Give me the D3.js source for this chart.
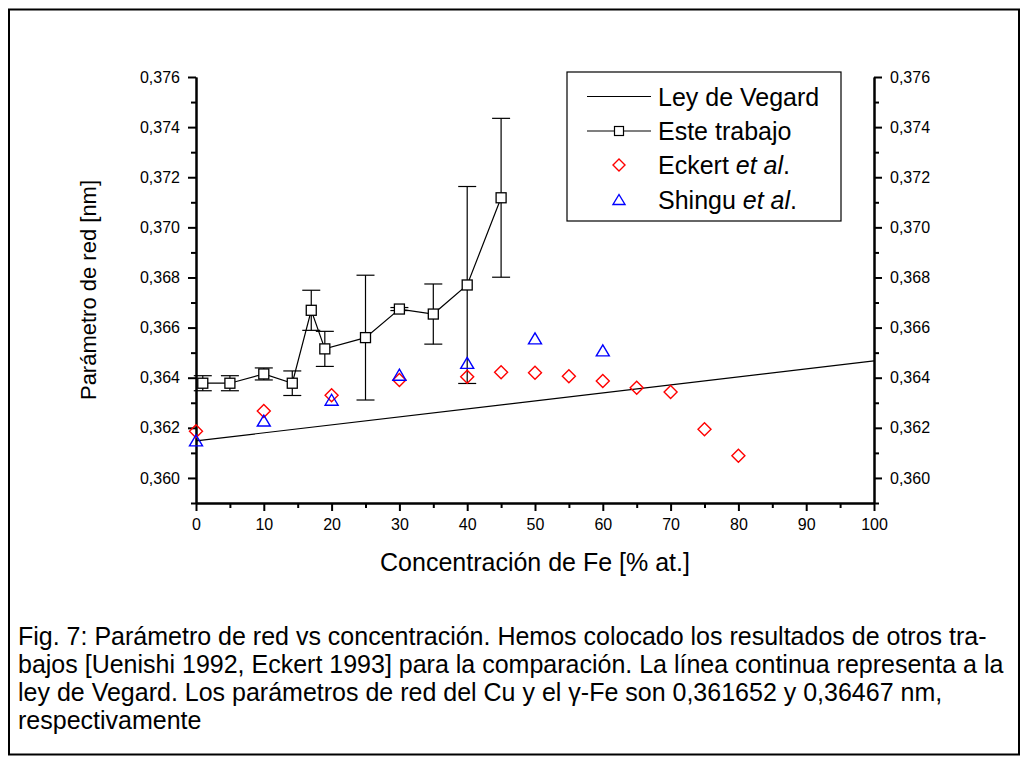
<!DOCTYPE html>
<html><head><meta charset="utf-8">
<script src="https://cdn.jsdelivr.net/npm/d3@7"></script>
<style>
html,body{margin:0;padding:0;background:#fff;}
svg{display:block;font-family:"Liberation Sans",Arial,sans-serif;}
</style></head>
<body>
<svg id="chart" width="1028" height="764"></svg>
<script>
// ---- data ----
const vegardX = [0, 100];
const vegardY = [0.36148, 0.36467];

const esteX   = [1, 5, 10, 14.2, 17, 19, 25, 30, 35, 40, 45];
const esteY   = [0.36378, 0.36378, 0.36415, 0.36378, 0.36669, 0.36515, 0.36560, 0.36674, 0.36654, 0.36770, 0.37118];
const esteErr = [0.00030, 0.00030, 0.00024, 0.00049, 0.00080, 0.00070, 0.00249, 0.00006, 0.00120, 0.00393, 0.00317];

const eckertX = [0, 10, 20, 30, 40, 45, 50, 55, 60, 65, 70, 75, 80];
const eckertY = [0.36186, 0.36267, 0.36330, 0.36391, 0.36404, 0.36422, 0.36420, 0.36406, 0.36387, 0.36360, 0.36343, 0.36194, 0.36089];

const shinguX = [0, 10, 20, 30, 40, 50, 60];
const shinguY = [0.36150, 0.36229, 0.36312, 0.36412, 0.36459, 0.36557, 0.36509];

const xMajorTicks = [0, 10, 20, 30, 40, 50, 60, 70, 80, 90, 100];
const xMinorTicks = [5, 15, 25, 35, 45, 55, 65, 75, 85, 95];
const yMajorTicks = [0.360, 0.362, 0.364, 0.366, 0.368, 0.370, 0.372, 0.374, 0.376];
const yMinorTicks = [0.359, 0.361, 0.363, 0.365, 0.367, 0.369, 0.371, 0.373, 0.375];

const legendLabels = ["Ley de Vegard", "Este trabajo", "Eckert", "Shingu"];
const xTitle = "Concentración de Fe [% at.]";
const yTitle = "Parámetro de red [nm]";
const captionLines = [
  "Fig. 7: Parámetro de red vs concentración. Hemos colocado los resultados de otros tra-",
  "bajos [Uenishi 1992, Eckert 1993] para la comparación. La línea continua representa a la",
  "ley de Vegard. Los parámetros de red del Cu y el γ-Fe son 0,361652 y 0,36467 nm,",
  "respectivamente"
];

// ---- drawing ----
const svg = d3.select("#chart");
svg.append("rect").attr("x", 9).attr("y", 9.5).attr("width", 1010).attr("height", 745)
  .attr("fill", "none").attr("stroke", "#000").attr("stroke-width", 2);

const x = d3.scaleLinear().domain([0, 100]).range([196, 874]);
const y = d3.scaleLinear().domain([0.359, 0.376]).range([503, 77]);
const fmt = v => d3.format(".3f")(v).replace(".", ",");

function styleAxis(g) {
  g.selectAll("path.domain").attr("stroke", "#000").attr("stroke-width", 2);
  g.selectAll(".tick line").attr("stroke", "#000").attr("stroke-width", 2);
  g.selectAll(".tick text").attr("font-size", 16).attr("fill", "#000")
    .attr("font-family", "Liberation Sans, Arial, sans-serif");
}

// minor ticks first
svg.append("g").attr("transform", `translate(0,${y.range()[0]})`)
  .call(d3.axisBottom(x).tickValues(xMinorTicks).tickSize(5).tickSizeOuter(0).tickFormat(""))
  .call(styleAxis);
svg.append("g").attr("transform", `translate(${x.range()[0]},0)`)
  .call(d3.axisLeft(y).tickValues(yMinorTicks).tickSize(5).tickSizeOuter(0).tickFormat(""))
  .call(styleAxis);
svg.append("g").attr("transform", `translate(${x.range()[1]},0)`)
  .call(d3.axisRight(y).tickValues(yMinorTicks).tickSize(5).tickSizeOuter(0).tickFormat(""))
  .call(styleAxis);

svg.append("g").attr("transform", `translate(0,${y.range()[0]})`)
  .call(d3.axisBottom(x).tickValues(xMajorTicks).tickSize(8).tickSizeOuter(0).tickPadding(8))
  .call(styleAxis);
svg.append("g").attr("transform", `translate(${x.range()[0]},0)`)
  .call(d3.axisLeft(y).tickValues(yMajorTicks).tickSize(8).tickSizeOuter(0).tickPadding(8).tickFormat(fmt))
  .call(styleAxis);
svg.append("g").attr("transform", `translate(${x.range()[1]},0)`)
  .call(d3.axisRight(y).tickValues(yMajorTicks).tickSize(8).tickSizeOuter(0).tickPadding(8).tickFormat(fmt))
  .call(styleAxis);

// axis titles
svg.append("text").attr("x", (x.range()[0] + x.range()[1]) / 2).attr("y", 571)
  .attr("text-anchor", "middle").attr("font-size", 25).text(xTitle);
svg.append("text").attr("transform", `translate(96,${(y.range()[0] + y.range()[1]) / 2}) rotate(-90)`)
  .attr("text-anchor", "middle").attr("font-size", 22).text(yTitle);

// Vegard line
const line = d3.line().x(d => x(d[0])).y(d => y(d[1]));
svg.append("path").datum(d3.zip(vegardX, vegardY)).attr("d", line)
  .attr("fill", "none").attr("stroke", "#000").attr("stroke-width", 1.2);

// Este trabajo
const este = esteX.map((v, i) => ({x: v, y: esteY[i], e: esteErr[i]}));
svg.append("path").datum(este.map(d => [d.x, d.y])).attr("d", line)
  .attr("fill", "none").attr("stroke", "#000").attr("stroke-width", 1.2);
const eb = svg.append("g").attr("stroke", "#000").attr("stroke-width", 1.2);
este.forEach(d => {
  eb.append("line").attr("x1", x(d.x)).attr("x2", x(d.x)).attr("y1", y(d.y - d.e)).attr("y2", y(d.y + d.e));
  eb.append("line").attr("x1", x(d.x) - 9).attr("x2", x(d.x) + 9).attr("y1", y(d.y - d.e)).attr("y2", y(d.y - d.e));
  eb.append("line").attr("x1", x(d.x) - 9).attr("x2", x(d.x) + 9).attr("y1", y(d.y + d.e)).attr("y2", y(d.y + d.e));
});
svg.append("g").selectAll("rect").data(este).join("rect")
  .attr("x", d => x(d.x) - 5).attr("y", d => y(d.y) - 5).attr("width", 10).attr("height", 10)
  .attr("fill", "#fff").attr("stroke", "#000").attr("stroke-width", 1.3);

// Eckert diamonds
const diamond = (cx, cy, r) => `M${cx},${cy - r}L${cx + r},${cy}L${cx},${cy + r}L${cx - r},${cy}Z`;
svg.append("g").selectAll("path").data(d3.zip(eckertX, eckertY)).join("path")
  .attr("d", d => diamond(x(d[0]), y(d[1]), 6.5))
  .attr("fill", "none").attr("stroke", "#ff0000").attr("stroke-width", 1.4);

// Shingu triangles
const tri = (cx, cy, w, h) => `M${cx},${cy - h / 2}L${cx + w / 2},${cy + h / 2}L${cx - w / 2},${cy + h / 2}Z`;
svg.append("g").selectAll("path").data(d3.zip(shinguX, shinguY)).join("path")
  .attr("d", d => tri(x(d[0]), y(d[1]), 13, 11))
  .attr("fill", "none").attr("stroke", "#0000ff").attr("stroke-width", 1.4);

// legend
const lg = svg.append("g");
lg.append("rect").attr("x", 567).attr("y", 72).attr("width", 274).attr("height", 149)
  .attr("fill", "#fff").attr("stroke", "#000").attr("stroke-width", 1.2);
const rowY = [96.5, 131, 165, 199.5];
const lx1 = 587, lx2 = 651, lxm = 619, tx = 658;
lg.append("line").attr("x1", lx1).attr("x2", lx2).attr("y1", rowY[0]).attr("y2", rowY[0]).attr("stroke", "#000").attr("stroke-width", 1.2);
lg.append("line").attr("x1", lx1).attr("x2", lx2).attr("y1", rowY[1]).attr("y2", rowY[1]).attr("stroke", "#000").attr("stroke-width", 1.2);
lg.append("rect").attr("x", lxm - 4.5).attr("y", rowY[1] - 4.5).attr("width", 9).attr("height", 9)
  .attr("fill", "#fff").attr("stroke", "#000").attr("stroke-width", 1.2);
lg.append("path").attr("d", diamond(lxm, rowY[2], 6)).attr("fill", "none").attr("stroke", "#ff0000").attr("stroke-width", 1.4);
lg.append("path").attr("d", tri(lxm, rowY[3], 12, 10)).attr("fill", "none").attr("stroke", "#0000ff").attr("stroke-width", 1.4);
const fs = 25;
lg.append("text").attr("x", tx).attr("y", rowY[0]).attr("dy", "0.36em").attr("font-size", fs).text(legendLabels[0]);
lg.append("text").attr("x", tx).attr("y", rowY[1]).attr("dy", "0.36em").attr("font-size", fs).text(legendLabels[1]);
const t3 = lg.append("text").attr("x", tx).attr("y", rowY[2]).attr("dy", "0.36em").attr("font-size", fs);
t3.append("tspan").text(legendLabels[2] + " ");
t3.append("tspan").attr("font-style", "italic").text("et al");
t3.append("tspan").text(".");
const t4 = lg.append("text").attr("x", tx).attr("y", rowY[3]).attr("dy", "0.36em").attr("font-size", fs);
t4.append("tspan").text(legendLabels[3] + " ");
t4.append("tspan").attr("font-style", "italic").text("et al");
t4.append("tspan").text(".");

// caption
svg.append("g").selectAll("text").data(captionLines).join("text")
  .attr("x", 18).attr("y", (d, i) => 645 + i * 28)
  .attr("font-size", 25).text(d => d);
</script>
</body></html>
